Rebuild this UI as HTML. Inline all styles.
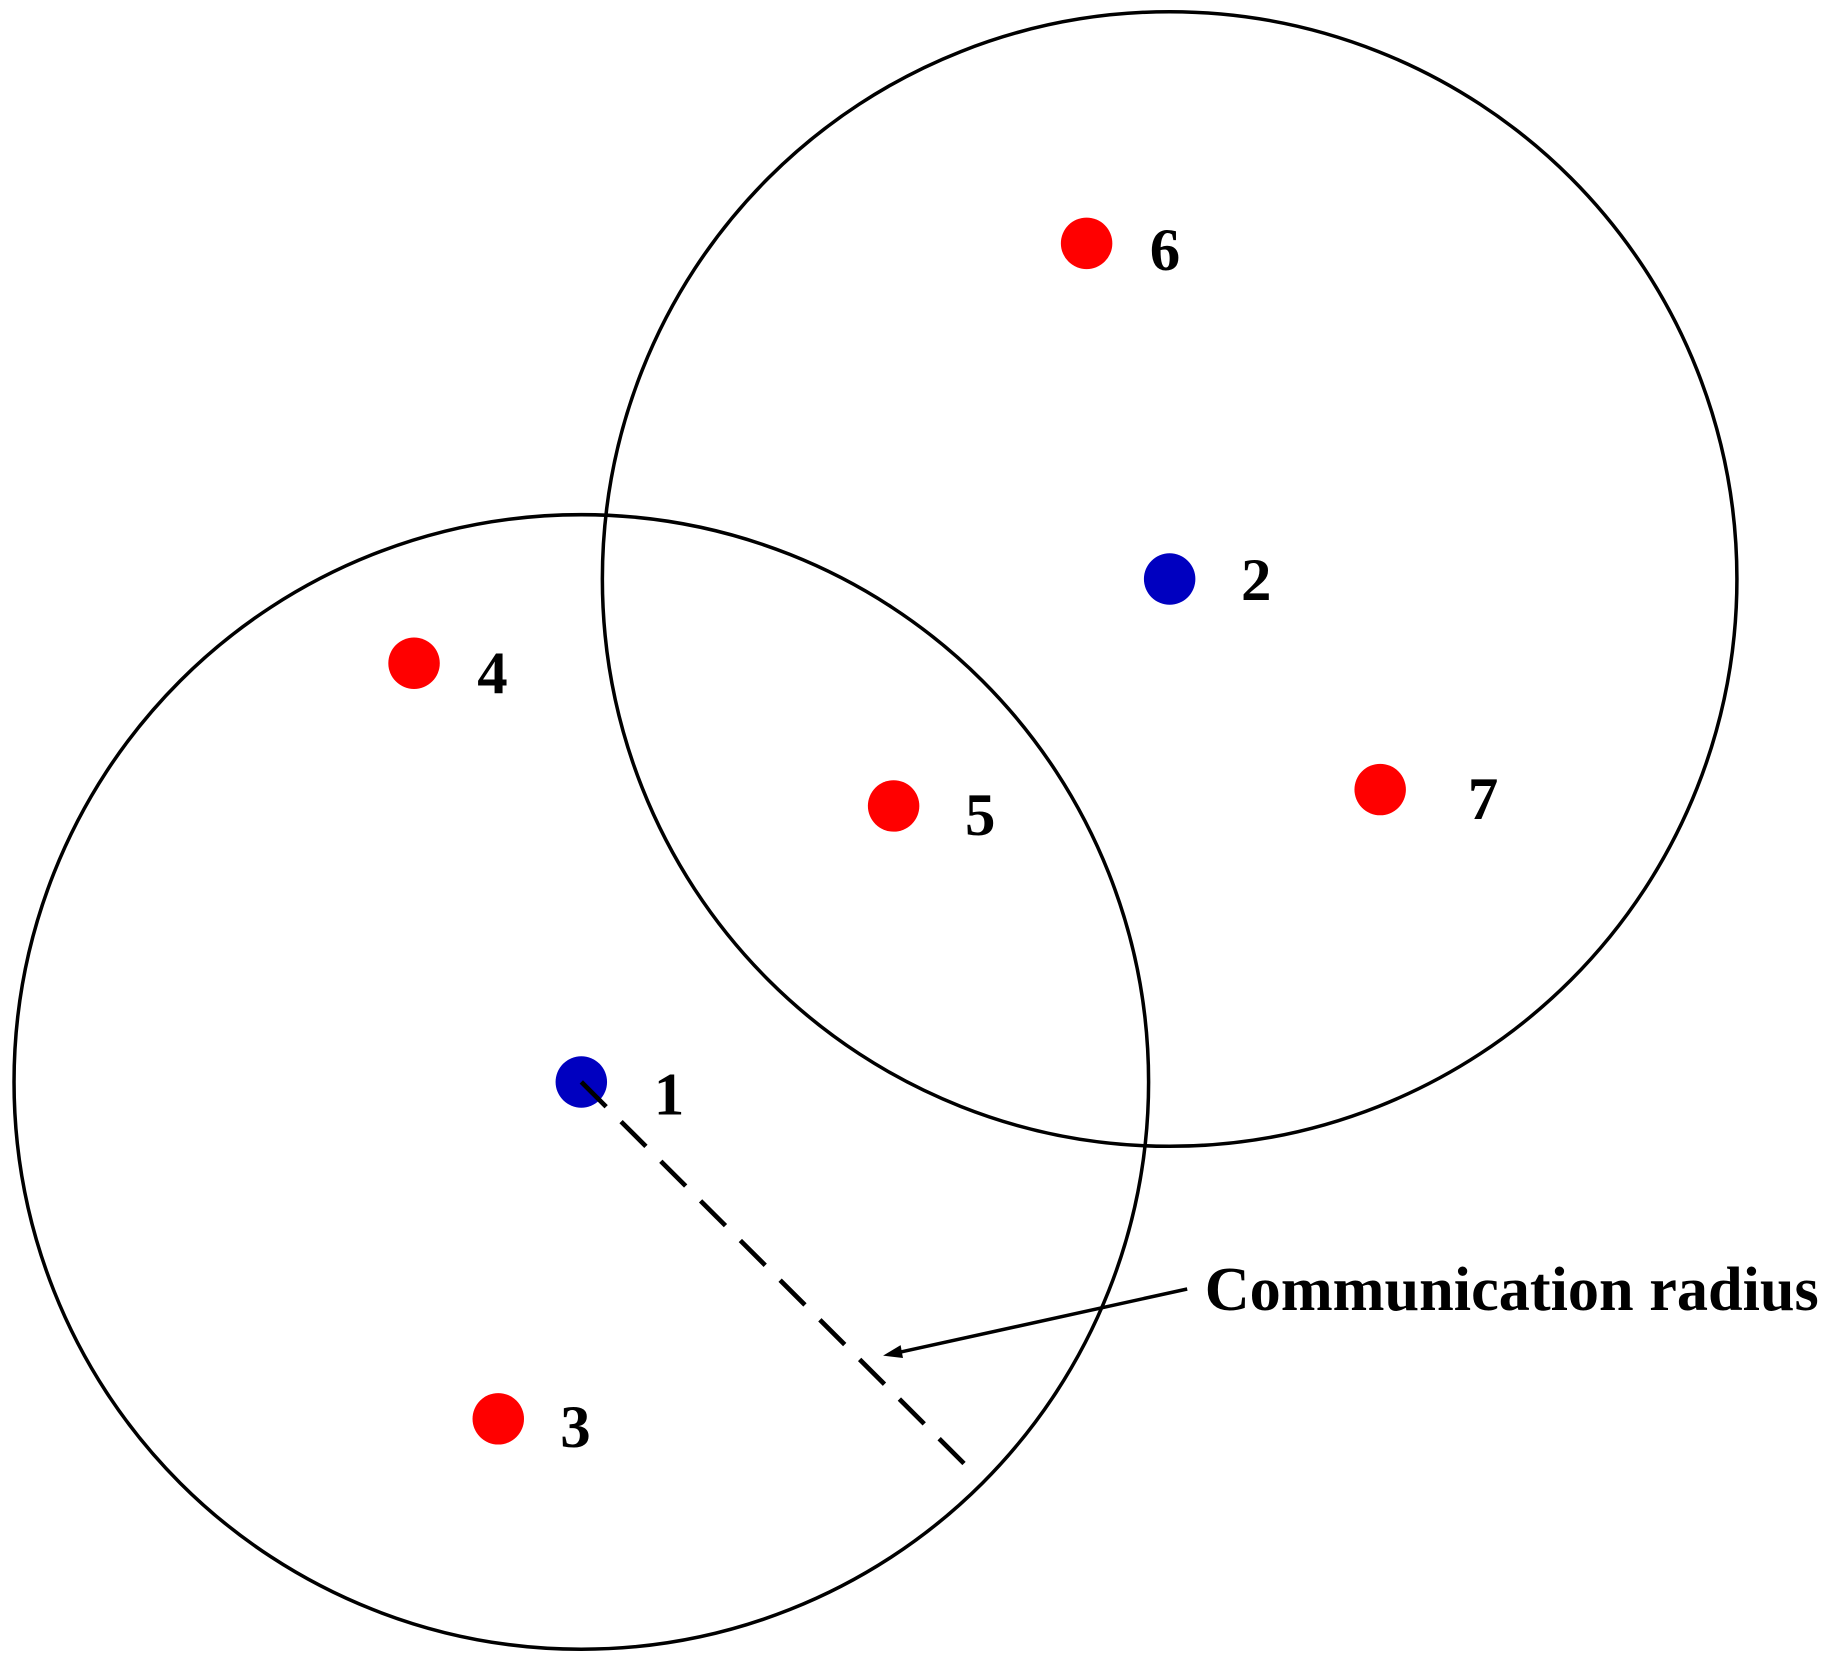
<!DOCTYPE html>
<html><head><meta charset="utf-8"><style>html,body{margin:0;padding:0;background:#fff}svg{display:block}</style></head>
<body>
<svg width="1834" height="1668" viewBox="0 0 1568 1426" xmlns="http://www.w3.org/2000/svg">
<rect width="1568" height="1426" fill="#fff"/>
<circle cx="497" cy="925" r="485" fill="none" stroke="#000" stroke-width="3"/>
<circle cx="1000" cy="495" r="485" fill="none" stroke="#000" stroke-width="3"/>
<line x1="1015" y1="1102" x2="765" y2="1157" stroke="#000" stroke-width="3"/>
<polygon points="755,1159 770,1150 772,1161" fill="#000"/>
<g fill="#ff0000">
<circle cx="929" cy="208" r="22"/>
<circle cx="354" cy="567" r="22"/>
<circle cx="764" cy="689" r="22"/>
<circle cx="1180" cy="675" r="22"/>
<circle cx="426" cy="1213" r="22"/>
</g>
<g fill="#0000c0">
<circle cx="1000" cy="495" r="22"/>
<circle cx="497" cy="925" r="22"/>
</g>
<line x1="497" y1="925" x2="826" y2="1253" stroke="#000" stroke-width="4" stroke-dasharray="30,18"/>
<g font-family="Liberation Serif, serif" font-weight="bold" font-size="52" text-anchor="middle" fill="#000">
<text x="996" y="231">6</text>
<text x="1074" y="513">2</text>
<text x="421" y="593">4</text>
<text x="838" y="714">5</text>
<text x="1268" y="700">7</text>
<text x="572" y="953">1</text>
<text x="492" y="1237">3</text>
</g>
<text x="1030" y="1120" font-family="Liberation Serif, serif" font-weight="bold" font-size="53" fill="#000" textLength="525" lengthAdjust="spacingAndGlyphs">Communication radius</text>
</svg>
</body></html>
